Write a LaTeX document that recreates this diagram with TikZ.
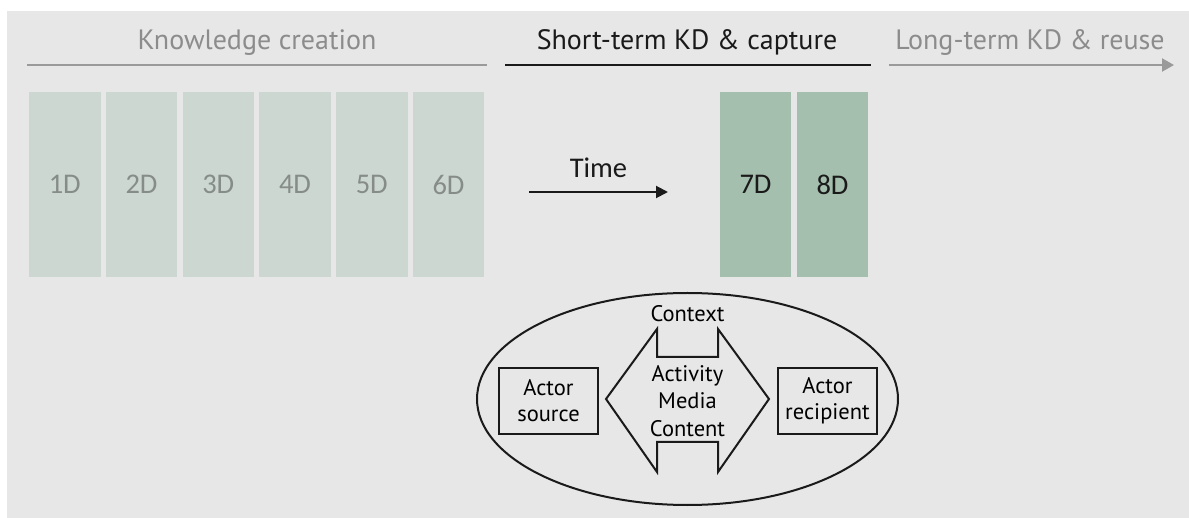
\documentclass[tikz,border=0pt]{standalone}
\usepackage{fontspec}
\setmainfont{PT Sans}
\newfontfamily\labelfont{Carlito}
\usetikzlibrary{arrows.meta,shapes.geometric}

\definecolor{panel}{HTML}{E7E7E7}
\definecolor{paleday}{HTML}{CDD7D2}
\definecolor{sageday}{HTML}{A5BFAE}
\definecolor{mutedtext}{HTML}{8C8C8C}
\definecolor{mutedline}{HTML}{9A9A9A}
\definecolor{daytext}{HTML}{868D88}
\definecolor{ink}{HTML}{1A1A1A}

\tikzset{
  phase/.style={font=\fontsize{28}{32}\selectfont, anchor=base, inner sep=0pt},
  phaseline/.style={line width=2.2pt},
  daybox/.style={minimum width=71.5pt, minimum height=185pt, inner sep=0pt,
                 font=\labelfont\fontsize{28.5}{32}\selectfont},
  pastday/.style={daybox, fill=paleday, text=daytext},
  nowday/.style={daybox, fill=sageday, text=ink},
  actor/.style={draw=ink, line width=2pt, minimum width=99pt, minimum height=66pt,
                inner sep=0pt, align=center, font=\fontsize{22.5}{26}\selectfont},
  modeltext/.style={inner sep=0pt, align=center, font=\fontsize{22.5}{27.5}\selectfont}
}

\begin{document}
\begin{tikzpicture}[x=1pt, y=-1pt]
  \useasboundingbox (0,0) rectangle (1189,518);
  \fill[panel] (7,11) rectangle (1189,518);

  % phase headings and their rules
  \node[phase, text=mutedtext] (kc) at (257,50) {Knowledge creation};
  \node[phase, text=ink] (st) at (687,50) {Short-term KD \& capture};
  \node[phase, text=mutedtext] (lt) at (1030,50) {Long-term KD \& reuse};

  \coordinate (kcA) at (27,65);  \coordinate (kcB) at (487,65);
  \coordinate (stA) at (505,65); \coordinate (stB) at (871,65);
  \coordinate (ltA) at (889,65); \coordinate (ltB) at (1174,65);
  \draw[phaseline, mutedline] (kcA) -- (kcB);
  \draw[phaseline, ink] (stA) -- (stB);
  \draw[phaseline, mutedline, -{Triangle[length=12pt, width=13pt]}] (ltA) -- (ltB);

  % the eight disciplines
  \node[pastday] (d1) at (64.75,184.5) {1D};
  \node[pastday] (d2) at (141.5,184.5) {2D};
  \node[pastday] (d3) at (218.25,184.5) {3D};
  \node[pastday] (d4) at (295,184.5) {4D};
  \node[pastday] (d5) at (371.75,184.5) {5D};
  \node[pastday] (d6) at (448.5,184.5) {6D};
  \node[nowday] (d7) at (755.5,184.5) {7D};
  \node[nowday] (d8) at (832.5,184.5) {8D};

  % time arrow
  \coordinate (t0) at (529,192);
  \coordinate (t1) at (668,192);
  \draw[line width=2pt, ink, -{Triangle[length=12pt, width=12pt]}] (t0) -- (t1);
  \node[font=\labelfont\fontsize{28.5}{32}\selectfont, anchor=base, inner sep=0pt, text=ink]
    (time) at (598.5,178) {Time};

  % knowledge transfer model
  \node[ellipse, draw=ink, line width=2pt, minimum width=421pt, minimum height=212pt,
        inner sep=0pt] (model) at (687.5,399) {};
  \node[actor] (src) at (548.5,401) {Actor\\source};
  \node[actor] (rcp) at (827.5,401) {Actor\\recipient};

  \coordinate (pL) at (606,399);
  \coordinate (pA) at (657,329); \coordinate (pB) at (657,357);
  \coordinate (pC) at (718,357); \coordinate (pD) at (718,329);
  \coordinate (pR) at (769,399);
  \coordinate (pE) at (718,472); \coordinate (pF) at (718,442);
  \coordinate (pG) at (657,442); \coordinate (pH) at (657,472);
  \draw[ink, line width=2pt, line join=miter]
    (pL) -- (pA) -- (pB) -- (pC) -- (pD) -- (pR) -- (pE) -- (pF) -- (pG) -- (pH) -- cycle;

  \node[modeltext, anchor=base] (ctx) at (687.5,322) {Context};
  \node[modeltext] (amc) at (687.5,401) {Activity\\Media\\Content};
\end{tikzpicture}
\end{document}
